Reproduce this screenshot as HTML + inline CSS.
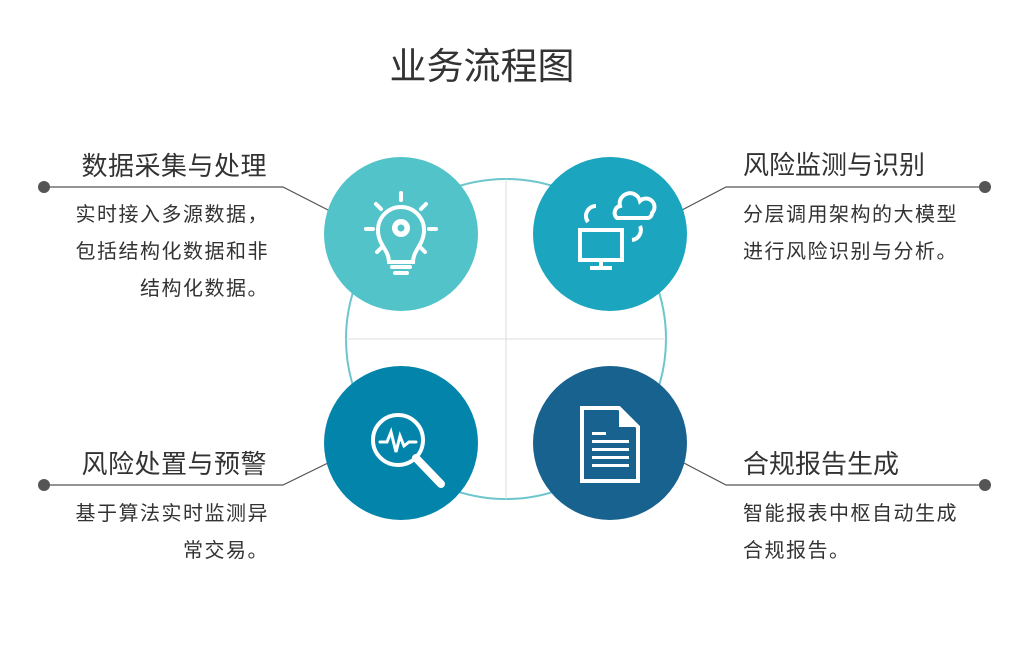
<!DOCTYPE html>
<html><head><meta charset="utf-8"><style>
body{margin:0;width:1011px;height:670px;background:#fff;overflow:hidden;position:relative;font-family:"Liberation Sans","Noto Sans CJK SC",sans-serif;color:#333}
.t{position:absolute;white-space:nowrap}
.h{font-size:26px;color:#333;line-height:30px}
.b{font-size:20px;letter-spacing:1.5px;color:#333;line-height:37px}
.r{text-align:right}
</style></head><body>
<svg width="1011" height="670" style="position:absolute;left:0;top:0">
<circle cx="506" cy="339" r="160" fill="none" stroke="#6cc6cc" stroke-width="2"/>
<line x1="346" y1="339" x2="666" y2="339" stroke="#ddd" stroke-width="1"/>
<line x1="506" y1="179" x2="506" y2="499" stroke="#ddd" stroke-width="1"/>
<g stroke="#555" stroke-width="1.2" fill="none">
<polyline points="44,187 283,187 330,211"/>
<polyline points="985,187 726,187 682,210"/>
<polyline points="44,485 283,485 330,462"/>
<polyline points="985,485 726,485 682,462"/>
</g>
<g fill="#555"><circle cx="44" cy="187" r="6"/><circle cx="985" cy="187" r="6"/><circle cx="44" cy="485" r="6"/><circle cx="985" cy="485" r="6"/></g>
<circle cx="401" cy="234" r="77" fill="#52c3c9"/>
<circle cx="610" cy="234" r="77" fill="#1ba5bf"/>
<circle cx="401" cy="443" r="77" fill="#0284ab"/>
<circle cx="610" cy="443" r="77" fill="#18628f"/>
<g stroke="#fff" stroke-width="4" fill="none" stroke-linecap="round">
<path d="M389,262 C389,250 378,245 378,230 A23,23 0 1,1 424,230 C424,245 413,250 413,262 Z"/>
<line x1="392" y1="267" x2="410" y2="267"/><line x1="395" y1="273" x2="407" y2="273"/>
<line x1="401" y1="193" x2="401" y2="200"/><line x1="366" y1="229" x2="373" y2="229"/><line x1="429" y1="229" x2="436" y2="229"/>
<line x1="376" y1="204" x2="381" y2="209"/><line x1="426" y1="204" x2="421" y2="209"/>
<line x1="377" y1="252" x2="381" y2="248"/><line x1="425" y1="252" x2="421" y2="248"/>
</g>
<circle cx="401" cy="228" r="9" fill="#fff"/><circle cx="401" cy="228" r="3.5" fill="#52c3c9"/>
<g stroke="#fff" stroke-width="4" fill="none">
<rect x="580" y="230" width="42" height="30"/>
<line x1="601" y1="262" x2="601" y2="267"/><line x1="590" y1="268" x2="612" y2="268"/>
<path d="M617,218 A7,7 0 0,1 620,206 A10,10 0 0,1 640,201 A8,8 0 0,1 652,213 A5,5 0 0,1 648,218 Z"/>
<path d="M588,222 A10,10 0 0,1 596,206"/><path d="M640,226 A10,10 0 0,1 632,240"/>
</g>
<g stroke="#fff" stroke-width="4" fill="none" stroke-linecap="round">
<circle cx="398" cy="440" r="25"/>
<line x1="416" y1="458" x2="441" y2="484" stroke-width="8"/>
<polyline points="380,442 387,442 391,432 396,452 400,436 404,446 409,442 416,442" stroke-width="3"/>
</g>
<path d="M582,408 L619,408 L638,427 L638,481 L582,481 Z" fill="none" stroke="#fff" stroke-width="4"/>
<path d="M619,408 L619,427 L638,427 Z" fill="#fff"/>
<g fill="#fff"><rect x="592" y="432" width="14" height="3"/><rect x="592" y="440" width="37" height="3"/><rect x="592" y="448" width="37" height="3"/><rect x="592" y="456" width="37" height="3"/><rect x="592" y="464" width="37" height="3"/></g>
</svg>
<div class="t" style="left:0;width:964px;text-align:center;top:45px;font-size:37px;line-height:44px;color:#333">业务流程图</div>
<div class="t h r" style="right:744px;top:151px;letter-spacing:0.5px">数据采集与处理</div>
<div class="t b r" style="right:742px;top:197px">实时接入多源数据，<br>包括结构化数据和非<br>结构化数据。</div>
<div class="t h" style="left:743px;top:150px">风险监测与识别</div>
<div class="t b" style="left:743px;top:197px">分层调用架构的大模型<br>进行风险识别与分析。</div>
<div class="t h r" style="right:744px;top:449px;letter-spacing:0.5px">风险处置与预警</div>
<div class="t b r" style="right:742px;top:496px">基于算法实时监测异<br>常交易。</div>
<div class="t h" style="left:743px;top:449px">合规报告生成</div>
<div class="t b" style="left:743px;top:496px">智能报表中枢自动生成<br>合规报告。</div>
</body></html>
